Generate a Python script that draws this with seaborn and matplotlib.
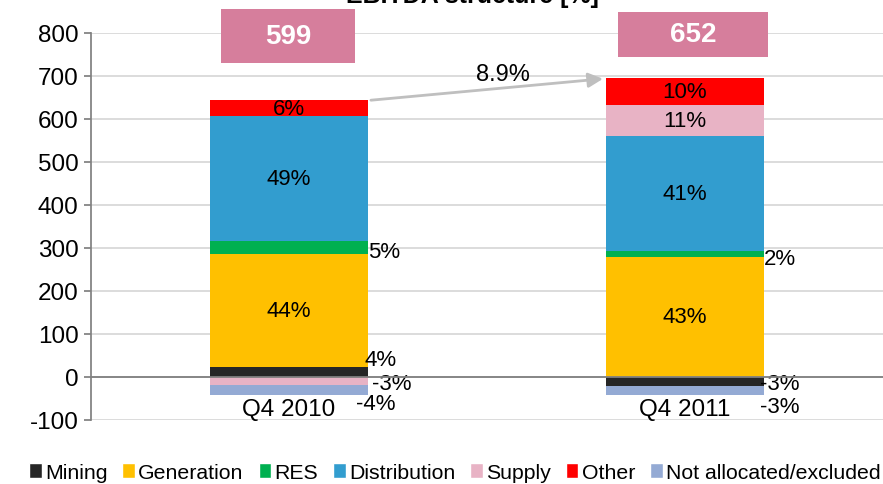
import matplotlib.pyplot as plt
from matplotlib.patches import Rectangle
import seaborn as sns
import pandas as pd
import numpy as np

# data (PLN m)
quarters = ['Q4 2010', 'Q4 2011']
totals = [599, 652]
segments = ['Mining', 'Generation', 'RES', 'Distribution', 'Supply', 'Other', 'Not allocated/excluded']
mining = [24, -20]
generation = [262, 280]
res = [31, 13]
distribution = [290, 268]
supply = [-18, 72]
other = [36, 63]
not_allocated = [-24, -22]
shares = {
    'Mining': ['4%', '-3%'],
    'Generation': ['44%', '43%'],
    'RES': ['5%', '2%'],
    'Distribution': ['49%', '41%'],
    'Supply': ['-3%', '11%'],
    'Other': ['6%', '10%'],
    'Not allocated/excluded': ['-4%', '-3%'],
}
growth = '8.9%'

colors = {
    'Mining': '#262626',
    'Generation': '#FFC000',
    'RES': '#00B050',
    'Distribution': '#329DCF',
    'Supply': '#E8B3C5',
    'Other': '#FF0000',
    'Not allocated/excluded': '#94AAD4',
}

sns.set_theme(style='white')
plt.rcParams['font.family'] = ['Liberation Sans', 'DejaVu Sans']
plt.rcParams['axes.unicode_minus'] = False
plt.rcParams['text.color'] = 'black'
plt.rcParams['ytick.color'] = 'black'

values = dict(zip(segments, [mining, generation, res, distribution, supply, other, not_allocated]))

fig = plt.figure(figsize=(8.83, 4.85), dpi=100)
ax = fig.add_axes([0.103, 0.132, 0.897, 0.798])

pos_base = np.zeros(2)
neg_base = np.zeros(2)
bottoms = {}
for seg in segments:
    v = np.array(values[seg], dtype=float)
    b = np.where(v >= 0, pos_base, neg_base)
    bottoms[seg] = b
    df = pd.DataFrame({'quarter': quarters, 'value': v})
    sns.barplot(data=df, x='quarter', y='value', bottom=b, color=colors[seg],
                saturation=1, width=0.4, errorbar=None, ax=ax, label=seg,
                linewidth=0, zorder=3)
    pos_base = np.where(v >= 0, pos_base + v, pos_base)
    neg_base = np.where(v < 0, neg_base + v, neg_base)
if ax.get_legend() is not None:
    ax.get_legend().remove()

ax.set_xlim(-0.5, 1.5)
ax.set_ylim(-100, 800)
ax.set_yticks(range(-100, 801, 100))
ax.tick_params(axis='y', labelsize=17.5, length=5, color='#808080', left=True, pad=4,
               labelcolor='black')
ax.set_xticks([])
ax.set_xlabel('')
ax.set_ylabel('')
ax.grid(axis='y', color='#D9D9D9', lw=1.3, zorder=0)
for s in ['top', 'right', 'bottom']:
    ax.spines[s].set_visible(False)
ax.spines['left'].set_color('#808080')
ax.axhline(0, color='#808080', lw=1.3, zorder=4)

fs = 16
# segment labels
inside = ['Generation', 'Distribution', 'Other']
for i in range(2):
    for seg in segments:
        v = values[seg][i]
        b = bottoms[seg][i]
        lab = shares[seg][i]
        if seg in inside or (seg == 'Supply' and i == 1):
            ax.text(i, b + v / 2, lab, ha='center', va='center', fontsize=fs, zorder=5)
    ax.text(i, -75, quarters[i], ha='center', va='center', fontsize=17.5, zorder=5)

# labels on the right side of the bars
ax.text(0.2, bottoms['RES'][0] + res[0] / 2 - 10, shares['RES'][0], ha='left', va='center', fontsize=fs)
ax.text(1.2, bottoms['RES'][1] + res[1] / 2 - 10, shares['RES'][1], ha='left', va='center', fontsize=fs)
ax.text(0.19, 40, shares['Mining'][0], ha='left', va='center', fontsize=fs)
ax.text(0.21, -15, shares['Supply'][0], ha='left', va='center', fontsize=fs)
ax.text(0.17, -62, shares['Not allocated/excluded'][0], ha='left', va='center', fontsize=fs)
ax.text(1.19, -15, shares['Mining'][1], ha='left', va='center', fontsize=fs)
ax.text(1.19, -68, shares['Not allocated/excluded'][1], ha='left', va='center', fontsize=fs)

# total boxes
box_x = [(-0.172, 0.168), (0.83, 1.21)]
box_y = [(730, 856), (744, 849)]
for i, t in enumerate(totals):
    x0, x1 = box_x[i]
    y0, y1 = box_y[i]
    ax.add_patch(Rectangle((x0, y0), x1 - x0, y1 - y0, fc='#D67E9C', ec='none',
                           clip_on=False, zorder=6))
    ax.text((x0 + x1) / 2, (y0 + y1) / 2, str(t), ha='center', va='center', fontsize=20,
            fontweight='bold', color='white', zorder=7, clip_on=False)

ax.annotate('', xy=(0.8, pos_base[1] - 2), xytext=(0.2, pos_base[0]),
            arrowprops=dict(arrowstyle='-|>', color='#BFBFBF', lw=2, mutation_scale=22),
            zorder=6)
ax.text(0.54, 705, growth, ha='center', va='center', fontsize=17)

fig.text(0.535, 0.984, 'EBITDA structure [%]', ha='center', va='bottom', fontsize=18,
         fontweight='bold')

fig.legend([Rectangle((0, 0), 1, 1, fc=colors[s]) for s in segments], segments,
           loc='lower center', bbox_to_anchor=(0.515, -0.035), ncol=7,
           frameon=False, fontsize=15.3, handlelength=0.6, handleheight=0.75,
           handletextpad=0.15, columnspacing=0.7)

fig.savefig('out.png', dpi=100)
